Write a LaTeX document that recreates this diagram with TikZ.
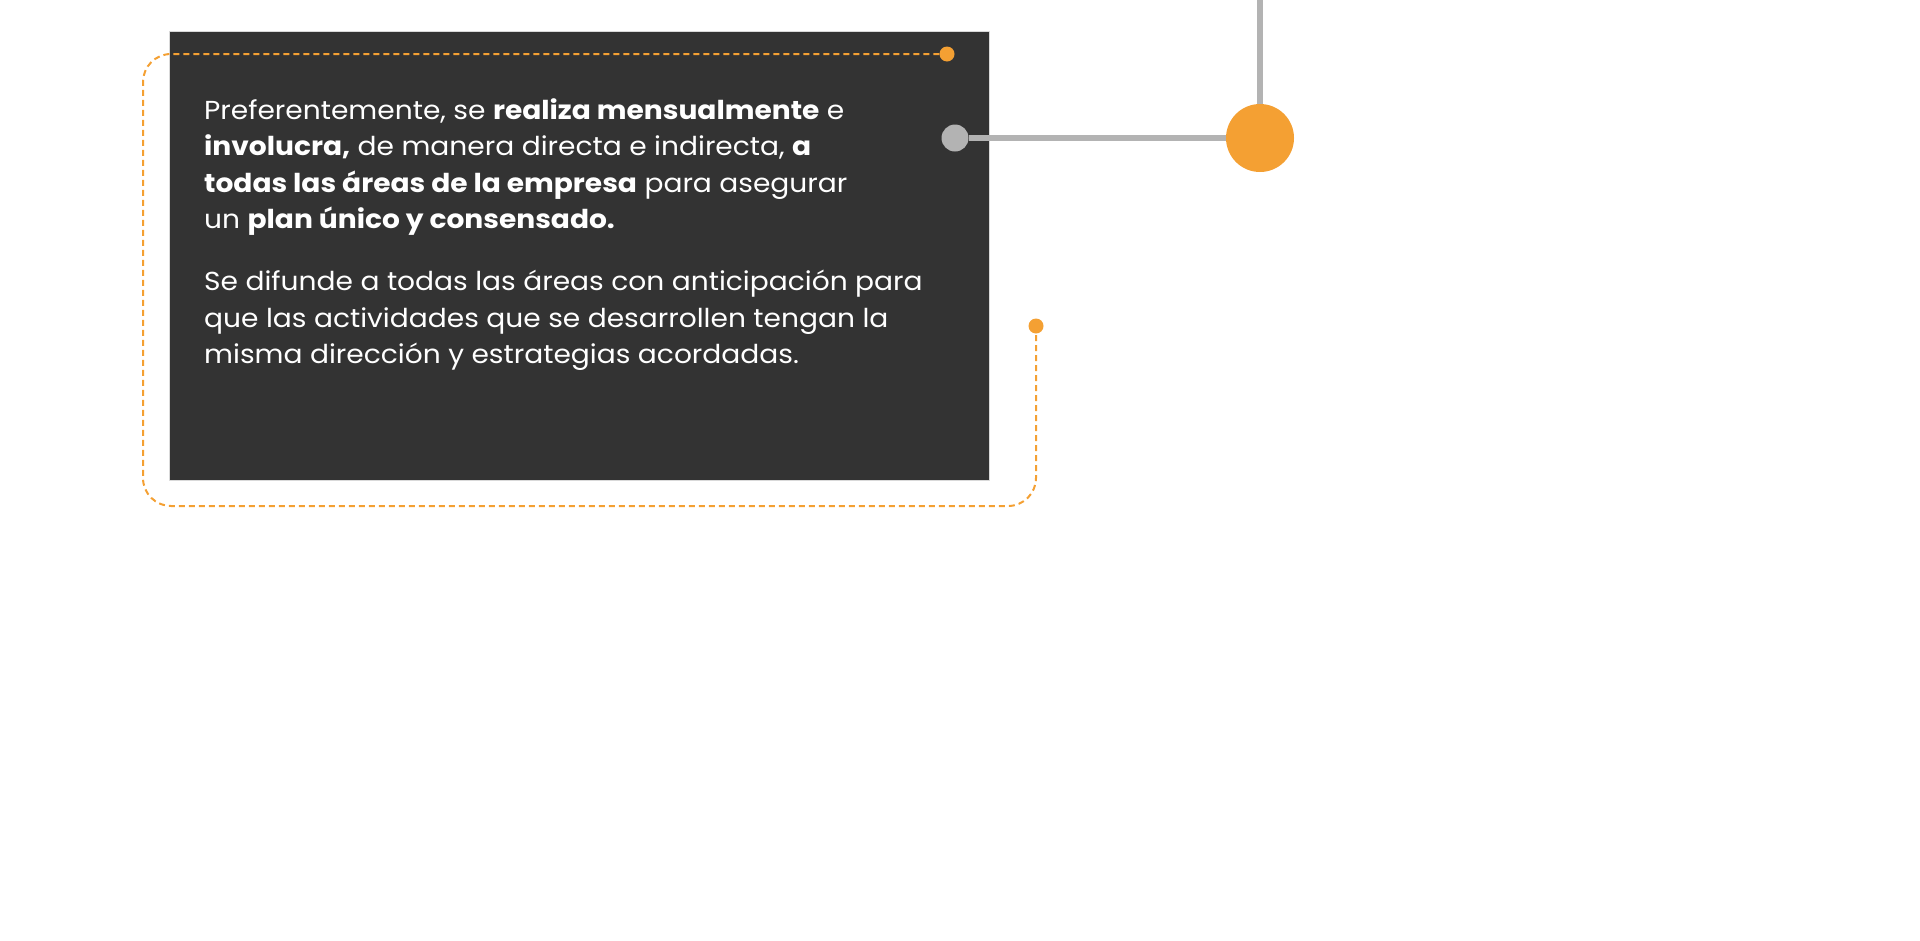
\documentclass[tikz,border=0pt]{standalone}
\usepackage{fontspec}
\setmainfont{Poppins}[FakeStretch=1.08]
\usetikzlibrary{positioning}
\definecolor{panelgray}{HTML}{333333}
\definecolor{accent}{HTML}{F4A033}
\definecolor{wiregray}{HTML}{B3B3B3}

\begin{document}
\begin{tikzpicture}[line cap=round, line join=round, x=1pt, y=-1pt,
  panel/.style={fill=panelgray, draw=black!15, line width=0.8pt, minimum width=820pt, minimum height=449pt, inner sep=0pt, anchor=north west},
  bodytext/.style={text=white, align=left, anchor=north west, inner sep=0pt, font=\fontsize{26}{36.6}\selectfont},
  pin/.style={circle, fill=accent, inner sep=0pt, minimum size=15pt},
  knob/.style={circle, fill=wiregray, inner sep=0pt, minimum size=27pt},
  hubdot/.style={circle, fill=accent, inner sep=0pt, minimum size=68pt},
  wire/.style={draw=wiregray, line width=6pt, line cap=butt},
  trail/.style={draw=accent, line width=2pt, line cap=butt, dash pattern=on 6pt off 4pt, rounded corners=28pt}]
  \useasboundingbox (0,0) rectangle (1920,940);
  \node[panel] (panel) at (169,31) {};
  \node[bodytext] (info) at (204,98) {Preferentemente, se \textbf{realiza mensualmente} e\\
    \textbf{involucra,} de manera directa e indirecta, \textbf{a}\\
    \textbf{todas las áreas de la empresa} para asegurar\\
    un \textbf{plan único y consensado.}\\[25pt]
    Se difunde a todas las áreas con anticipación para\\
    que las actividades que se desarrollen tengan la\\
    misma dirección y estrategias acordadas.};
  \coordinate (hubtop) at (1260,0);
  \node[hubdot] (hub) at (1260,138) {};
  \node[knob] (knob) at (955,138) {};
  \node[pin] (toppin) at (947,54) {};
  \node[pin] (endpin) at (1036,326) {};
  \draw[wire] (hubtop) -- (hub);
  \draw[wire] (knob) -- (hub);
  \draw[trail] (toppin) -- (143,54) -- (143,506) -- (1036,506) -- (endpin);
\end{tikzpicture}
\end{document}
